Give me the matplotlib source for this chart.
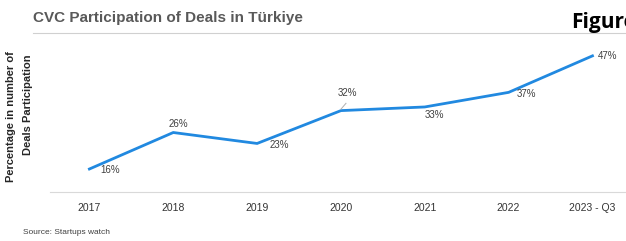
import matplotlib
matplotlib.use("Agg")
import matplotlib.pyplot as plt

# data
years = ["2017", "2018", "2019", "2020", "2021", "2022", "2023 - Q3"]
share = [16, 26, 23, 32, 33, 37, 47]
labels = ["16%", "26%", "23%", "32%", "33%", "37%", "47%"]
# label offsets in points
offsets = [(15, -1), (4, 6), (16, -1), (5, 13), (7, -6), (13, -1), (11, 0)]

plt.rcParams["font.family"] = ["Liberation Sans", "DejaVu Sans"]

W, H = 626, 241
fig = plt.figure(figsize=(W / 100, H / 100), dpi=100)
ax = fig.add_axes([50 / W, (H - 192) / H, 1 - 50 / W, 150 / H])

x = list(range(len(years)))
ax.plot(x, share, color="#2189e0", lw=2.0, solid_joinstyle="miter")

for i, (v, t) in enumerate(zip(share, labels)):
    ax.annotate(t, (i, v), xytext=offsets[i], textcoords="offset points",
                ha="center", va="center", fontsize=7, color="#404040")

# small leader line under the 32% label
ax.plot([3.0, 3.06], [32.4, 34.0], color="#b0b0b0", lw=0.7)

ax.set_xlim(-0.47, 6.4)
ax.set_ylim(9.7, 50.8)
ax.set_xticks(x)
ax.set_xticklabels(years, fontsize=7.5, color="#333333")
ax.tick_params(axis="x", length=0, pad=8)
ax.set_yticks([])
for s in ["top", "right", "left"]:
    ax.spines[s].set_visible(False)
ax.spines["bottom"].set_color("#d9d9d9")
ax.spines["bottom"].set_linewidth(0.8)

# title and underline
fig.text(33 / W, 1 - 18 / H, "CVC Participation of Deals in Türkiye",
         fontsize=11, fontweight="bold", color="#595959", va="center")
fig.add_artist(plt.Line2D([33 / W, 1], [1 - 33 / H, 1 - 33 / H],
                          color="#d0d0d0", lw=0.8))
fig.text(571 / W, 1 - 28 / H, "Figure", fontsize=15, fontweight="bold",
         color="black", va="baseline", family=["Open Sans", "DejaVu Sans"])

# y label
fig.text(11 / W, 1 - 117 / H, "Percentage in number of", rotation=90,
         fontsize=8, fontweight="bold", color="#262626", ha="center", va="center")
fig.text(28 / W, 1 - 105 / H, "Deals Participation", rotation=90,
         fontsize=8, fontweight="bold", color="#262626", ha="center", va="center")

fig.text(23 / W, 1 - 232 / H, "Source: Startups watch", fontsize=6,
         color="#404040", va="center")

fig.savefig("out.png", dpi=100)
